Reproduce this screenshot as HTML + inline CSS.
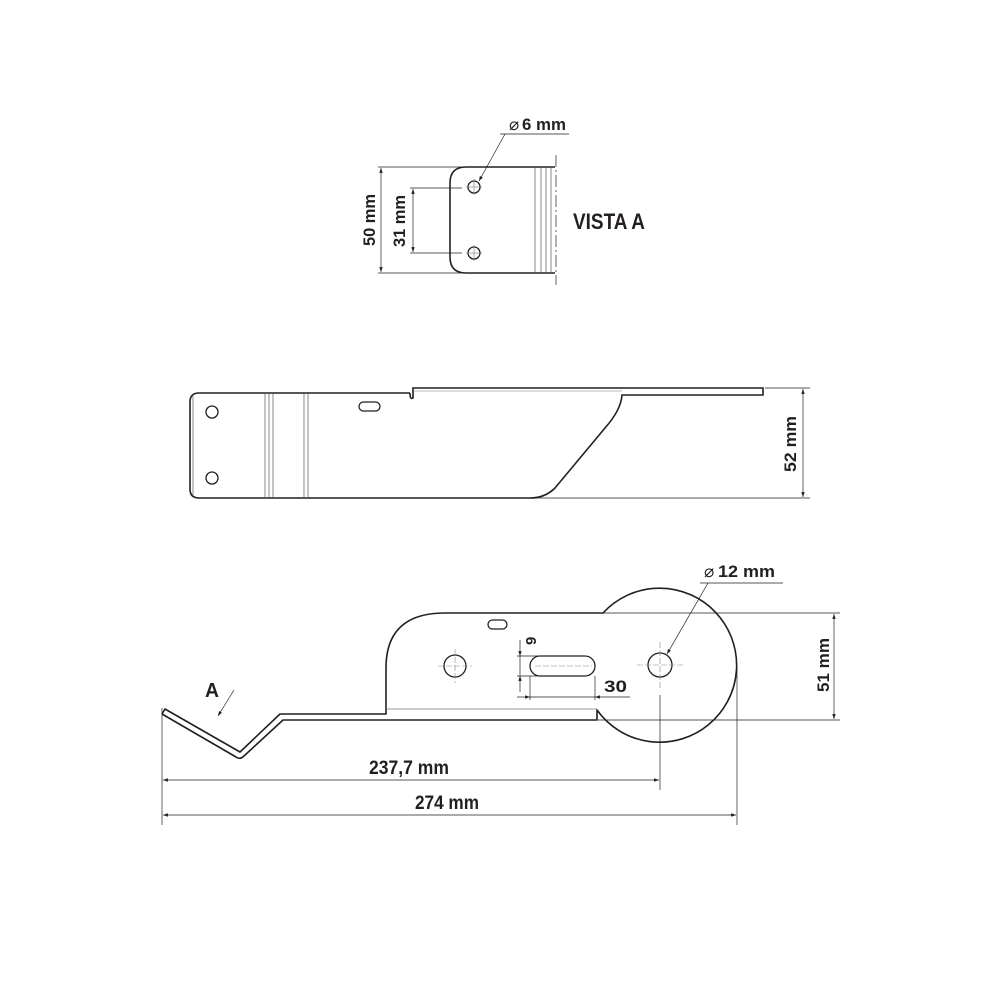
<!DOCTYPE html>
<html><head><meta charset="utf-8"><style>
html,body{margin:0;padding:0;background:#fff;}
svg{display:block}
text{font-family:"Liberation Sans",sans-serif;font-weight:bold;fill:#231f20}
</style></head><body>
<svg width="1000" height="1000" viewBox="0 0 1000 1000" xmlns="http://www.w3.org/2000/svg">
<defs>
<marker id="ar" viewBox="0 0 10 10" refX="10" refY="5" markerWidth="7" markerHeight="7" orient="auto-start-reverse"><path d="M0,1.5 L10,5 L0,8.5z" fill="#231f20"/></marker>
</defs>
<g fill="none" stroke="#231f20">
<!-- VISTA A -->
<path d="M555,167 H466 Q450,167 450,183 V257 Q450,273 466,273 H555" stroke-width="1.6"/>
<g stroke-width="0.7" stroke="#555"><line x1="535" y1="167" x2="535" y2="273"/><line x1="541" y1="167" x2="541" y2="273"/><line x1="546" y1="167" x2="546" y2="273"/><line x1="551" y1="167" x2="551" y2="273"/></g>
<line x1="556" y1="155" x2="556" y2="285" stroke-width="0.7" stroke-dasharray="12,3,2,3"/>
<circle cx="474" cy="187" r="6" stroke-width="1.3"/><circle cx="474" cy="253" r="6" stroke-width="1.3"/>
<g stroke-width="0.6" stroke="#777"><line x1="466" y1="187" x2="482" y2="187"/><line x1="474" y1="179" x2="474" y2="195"/><line x1="466" y1="253" x2="482" y2="253"/><line x1="474" y1="245" x2="474" y2="261"/></g>
<g stroke-width="0.7"><line x1="378" y1="167" x2="468" y2="167"/><line x1="378" y1="273" x2="468" y2="273"/><line x1="381" y1="168" x2="381" y2="272" marker-start="url(#ar)" marker-end="url(#ar)"/>
<line x1="410" y1="188" x2="462" y2="188"/><line x1="410" y1="253" x2="462" y2="253"/><line x1="413" y1="189" x2="413" y2="252" marker-start="url(#ar)" marker-end="url(#ar)"/>
<line x1="500" y1="134" x2="569" y2="134"/><line x1="505" y1="134" x2="479" y2="181" marker-end="url(#ar)"/></g>
<!-- middle view -->
<path d="M410,393 H199 Q190,393 190,402 V489 Q190,498 199,498 H530 Q545,498 555,488 L605,428 Q621,410 622,395 H763 V388 H413 V398 Q410,400 410,393" stroke-width="1.6"/>
<line x1="413" y1="391" x2="622" y2="391" stroke-width="0.6" stroke="#777"/>
<g stroke-width="0.7" stroke="#555"><line x1="265" y1="393" x2="265" y2="498"/><line x1="269" y1="393" x2="269" y2="498"/><line x1="273" y1="393" x2="273" y2="498"/><line x1="304" y1="393" x2="304" y2="498"/><line x1="308" y1="393" x2="308" y2="498"/><line x1="193" y1="396" x2="193" y2="495"/></g>
<circle cx="212" cy="412" r="6" stroke-width="1.3"/><circle cx="212" cy="478" r="6" stroke-width="1.3"/>
<rect x="359" y="402" width="21" height="9" rx="4.5" stroke-width="1.3"/>
<g stroke-width="0.7"><line x1="765" y1="388" x2="810" y2="388"/><line x1="530" y1="498" x2="810" y2="498"/><line x1="803" y1="389" x2="803" y2="497" marker-start="url(#ar)" marker-end="url(#ar)"/></g>
<!-- bottom view -->
<path d="M162,714 L165,709 L240,752 L280,714 H386 V668 Q386,613 445,613 H603 A77,77 0 1 1 597,710 V720 H283 L244,756 Q240,760 236,757 L162,714" stroke-width="1.6" stroke-linejoin="round"/>
<line x1="386" y1="709" x2="597" y2="709" stroke-width="0.7" stroke="#777"/>
<line x1="603" y1="613" x2="840" y2="613" stroke-width="0.7"/>
<line x1="598" y1="720" x2="840" y2="720" stroke-width="0.7"/>
<line x1="834" y1="614" x2="834" y2="719" stroke-width="0.7" marker-start="url(#ar)" marker-end="url(#ar)"/>
<circle cx="660" cy="665" r="12" stroke-width="1.3"/>
<circle cx="455" cy="666" r="11" stroke-width="1.3"/>
<g stroke-width="0.6" stroke="#888" stroke-dasharray="6,2"><line x1="637" y1="665" x2="683" y2="665"/><line x1="660" y1="642" x2="660" y2="688"/><line x1="438" y1="666" x2="472" y2="666"/><line x1="455" y1="649" x2="455" y2="683"/><line x1="535" y1="666" x2="592" y2="666"/></g>
<rect x="530" y="656" width="65" height="20" rx="10" stroke-width="1.3"/>
<rect x="488" y="620" width="19" height="9" rx="4.5" stroke-width="1.3"/>
<g stroke-width="0.7">
<line x1="517" y1="656" x2="540" y2="656"/><line x1="517" y1="676" x2="540" y2="676"/>
<line x1="520" y1="640" x2="520" y2="656" marker-end="url(#ar)"/><line x1="520" y1="692" x2="520" y2="676" marker-end="url(#ar)"/><line x1="520" y1="656" x2="520" y2="676"/>
<line x1="530" y1="676" x2="530" y2="700"/><line x1="595" y1="676" x2="595" y2="700"/>
<line x1="517" y1="697" x2="530" y2="697" marker-end="url(#ar)"/><line x1="630" y1="697" x2="595" y2="697" marker-end="url(#ar)"/><line x1="530" y1="697" x2="595" y2="697"/>
<line x1="700" y1="583" x2="783" y2="583"/><line x1="708" y1="583" x2="667" y2="654" marker-end="url(#ar)"/>
<line x1="234" y1="690" x2="218" y2="716" marker-end="url(#ar)"/>
<line x1="162" y1="708" x2="162" y2="825"/><line x1="660" y1="695" x2="660" y2="790"/><line x1="737" y1="665" x2="737" y2="825"/>
<line x1="163" y1="780" x2="659" y2="780" marker-start="url(#ar)" marker-end="url(#ar)"/>
<line x1="163" y1="815" x2="736" y2="815" marker-start="url(#ar)" marker-end="url(#ar)"/>
</g>
</g>
<text x="509" y="130" font-size="17" style="font-weight:normal">⌀</text><text x="522" y="130" font-size="17" textLength="44" lengthAdjust="spacingAndGlyphs">6 mm</text>
<text x="573" y="229" font-size="22" textLength="72" lengthAdjust="spacingAndGlyphs">VISTA A</text>
<text transform="translate(375,246) rotate(-90)" font-size="17" textLength="52" lengthAdjust="spacingAndGlyphs">50 mm</text>
<text transform="translate(405,247) rotate(-90)" font-size="17" textLength="52" lengthAdjust="spacingAndGlyphs">31 mm</text>
<text transform="translate(796,472) rotate(-90)" font-size="17" textLength="56" lengthAdjust="spacingAndGlyphs">52 mm</text>
<text transform="translate(829,692) rotate(-90)" font-size="17" textLength="54" lengthAdjust="spacingAndGlyphs">51 mm</text>
<text x="704" y="577" font-size="17" style="font-weight:normal">⌀</text><text x="718" y="577" font-size="17" textLength="57" lengthAdjust="spacingAndGlyphs">12 mm</text>
<text transform="translate(536,645) rotate(-90)" font-size="15">9</text>
<text x="604" y="692" font-size="17" textLength="23" lengthAdjust="spacingAndGlyphs">30</text>
<text x="205" y="697" font-size="20" textLength="14" lengthAdjust="spacingAndGlyphs">A</text>
<text x="369" y="774" font-size="19" textLength="80" lengthAdjust="spacingAndGlyphs">237,7 mm</text>
<text x="415" y="809" font-size="19" textLength="64" lengthAdjust="spacingAndGlyphs">274 mm</text>
</svg>
</body></html>
